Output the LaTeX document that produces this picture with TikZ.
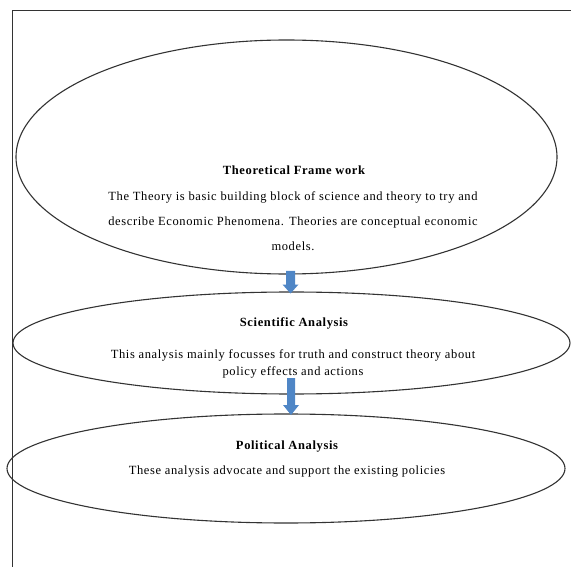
\documentclass[tikz,border=0pt]{standalone}
\usepackage{fontspec}
\setmainfont{Liberation Serif}[LetterSpace=5]
\usetikzlibrary{shapes.geometric}
\definecolor{arrowblue}{HTML}{4F86C6}
\definecolor{lineg}{HTML}{333333}
\tikzset{
  oval/.style={draw=lineg, line width=1.1pt, ellipse, inner sep=0pt},
  ttl/.style={font=\fontsize{12.5}{14}\selectfont\bfseries, inner sep=0pt},
  body/.style={font=\fontsize{12.5}{14}\selectfont, inner sep=0pt, align=center},
  blockarrow/.style={fill=arrowblue, draw=none}
}
\begin{document}
\begin{tikzpicture}[x=1pt,y=-1pt]
\useasboundingbox (0,0) rectangle (571,567);
\draw[line width=0.9pt, lineg] (12.5,10.5) rectangle (590,590);
% ellipses
\node[oval, minimum width=541pt, minimum height=234pt] (e1) at (286.5,157) {};
\node[oval, minimum width=557pt, minimum height=102pt] (e2) at (291.5,343) {};
\node[oval, minimum width=558pt, minimum height=109pt] (e3) at (286,468.5) {};
% texts
\node[ttl] (t1) at (294,170) {Theoretical Frame work};
\node[body, font=\fontsize{12.5}{25}\selectfont] (b1) at (293,221) {The Theory is basic building block of science and theory to try and\\describe Economic Phenomena. Theories are conceptual economic\\models.};
\node[ttl] (t2) at (294,323) {Scientific Analysis};
\node[body, font=\fontsize{12.5}{17}\selectfont] (b2) at (293,364) {This analysis mainly focusses for truth and construct theory about\\policy effects and actions};
\node[ttl] (t3) at (287,447) {Political Analysis};
\node[body] (b3) at (287,472) {These analysis advocate and support the existing policies};
% block arrows
\coordinate (a1) at (290.5,271);
\coordinate (a2) at (291,378);
\fill[blockarrow] (a1) ++(-4.5,0) -- ++(9,0) -- ++(0,13.5) -- ++(3.5,0) -- (290.5,293.5) -- ++(-8,-9) -- ++(3.5,0) -- cycle;
\fill[blockarrow] (a2) ++(-4,0) -- ++(8,0) -- ++(0,27) -- ++(4,0) -- (291,415) -- ++(-8,-10) -- ++(4,0) -- cycle;
\end{tikzpicture}
\end{document}
